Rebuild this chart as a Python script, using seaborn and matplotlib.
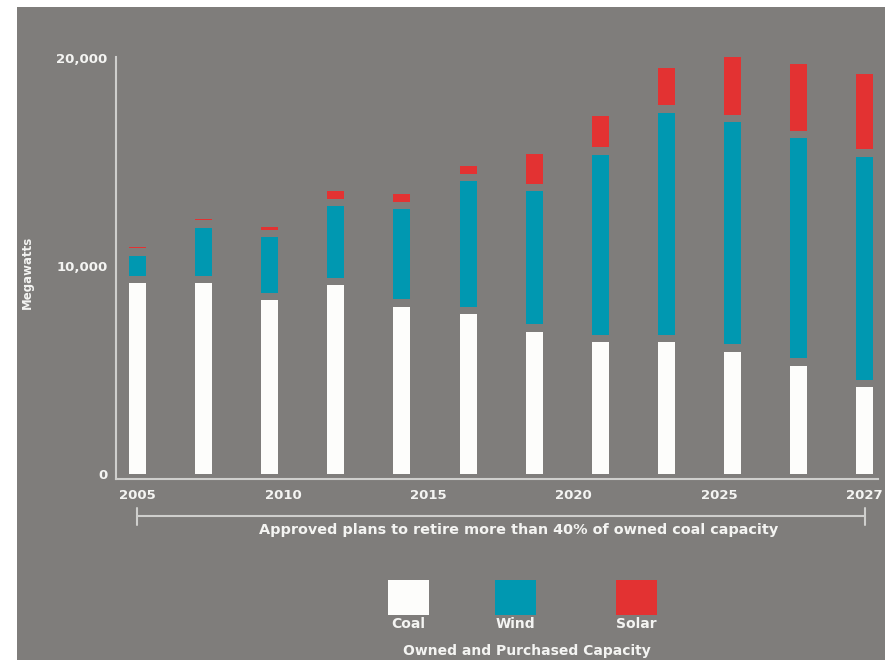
import numpy as np
import pandas as pd
import seaborn as sns
import matplotlib.pyplot as plt
import matplotlib.transforms as mtransforms
from matplotlib.patches import Rectangle

# values, MW per stacked piece
years = [2005, 2007, 2009, 2011, 2013, 2015, 2017, 2019, 2021, 2023, 2025, 2027]
coal = [9170, 9170, 8350, 9090, 8050, 7680, 6840, 6330, 6330, 5880, 5210, 4170]
wind = [980, 2330, 2680, 3450, 4330, 6040, 6410, 8670, 10690, 10690, 10590, 10740]
solar = [80, 80, 140, 370, 370, 370, 1430, 1490, 1800, 2760, 3190, 3610]
tick_labels = ['2005', '2010', '2015', '2020', '2025', '2027']
y_ticks = [0, 10000, 20000]
y_tick_labels = ['0', '10,000', '20,000']

sources = ['Coal', 'Wind', 'Solar']
colors = ['#fdfdfb', '#0098b1', '#e33232']
bg = '#7f7d7b'
fg = '#f4f4f2'
line_c = '#cfcfcd'
gap = 350  # grey gap between the stacked pieces, MW

df = pd.DataFrame({'year': [str(y) for y in years], 'Coal': coal, 'Wind': wind, 'Solar': solar})

sns.set_style('white')
plt.rcParams['font.family'] = ['DejaVu Sans']

W, H = 885, 660
fig = plt.figure(figsize=(W / 100, H / 100), dpi=100, facecolor='white')
fig.add_artist(Rectangle((17 / W, 0), 1, 653 / H, transform=fig.transFigure,
                         color=bg, lw=0, zorder=0))
ax = fig.add_axes([116 / W, 1 - 479 / H, 762 / W, 422 / H])
ax.set_facecolor(bg)

# stacked bars with a small gap between pieces
bottom = np.zeros(len(df))
for s, c in zip(sources, colors):
    sns.barplot(data=df, x='year', y=s, color=c, saturation=1, width=0.257,
                errorbar=None, bottom=bottom, linewidth=0, ax=ax)
    bottom = bottom + df[s].values + gap

ax.set_xlim(-0.325, 11.2)
ax.set_ylim(-240, 20050)
ax.set_xticks(np.linspace(0, len(years) - 1, len(tick_labels)))
ax.set_xticklabels(tick_labels)
ax.set_yticks(y_ticks)
ax.set_yticklabels(y_tick_labels)
ax.tick_params(length=0, colors=fg, labelsize=9.5)
ax.tick_params(axis='x', pad=7)
ax.tick_params(axis='y', pad=6)
for lab in ax.get_xticklabels() + ax.get_yticklabels():
    lab.set_fontweight('bold')
ax.set_xlabel('')
ax.set_ylabel('')

sns.despine(ax=ax)
for sp in ['left', 'bottom']:
    ax.spines[sp].set_color(line_c)
    ax.spines[sp].set_linewidth(1.5)

fig.text(27 / W, 1 - 272 / H, 'Megawatts', rotation=90, ha='center', va='center',
         color=fg, fontsize=8.5, fontweight='bold')

# bracket under the axis
trans = mtransforms.blended_transform_factory(ax.transData, fig.transFigure)
y_br = 1 - 516 / H
ax.plot([0, len(years) - 1], [y_br, y_br], transform=trans, color=line_c, lw=1.5, clip_on=False)
for xx in [0, len(years) - 1]:
    ax.plot([xx, xx], [1 - 508 / H, 1 - 525 / H], transform=trans, color=line_c, lw=1.5,
            clip_on=False)
fig.text(519 / W, 1 - 530 / H, 'Approved plans to retire more than 40% of owned coal capacity',
         ha='center', va='center', color=fg, fontsize=10.4, fontweight='bold')

# legend: squares with names below
sq_x = [388, 495, 616]
for name, c, x0 in zip(sources, colors, sq_x):
    fig.add_artist(Rectangle((x0 / W, 1 - 615 / H), 41 / W, 35 / H, transform=fig.transFigure,
                             color=c, lw=0))
    fig.text((x0 + 20.5) / W, 1 - 624 / H, name, ha='center', va='center',
             color=fg, fontsize=10, fontweight='bold')
fig.text(527 / W, 1 - 651 / H, 'Owned and Purchased Capacity', ha='center', va='center',
         color=fg, fontsize=10, fontweight='bold')

fig.savefig('out.png', dpi=100, facecolor=fig.get_facecolor())
